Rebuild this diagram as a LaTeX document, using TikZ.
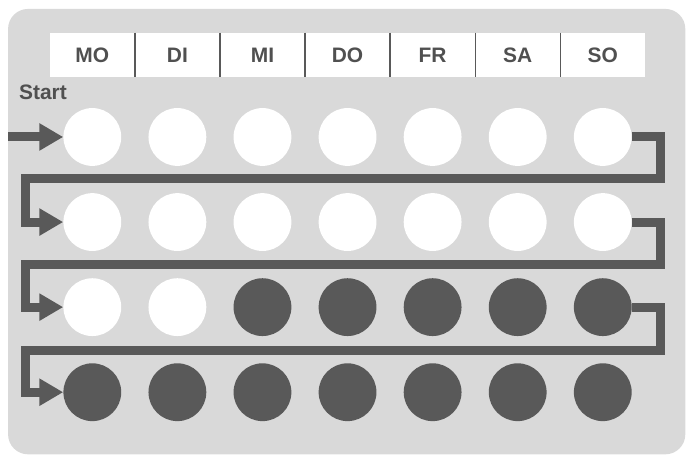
\documentclass[tikz,border=0pt]{standalone}
\usepackage{fontspec}
\setmainfont{Liberation Sans}
\usetikzlibrary{arrows.meta}
\definecolor{panelgray}{RGB}{217,217,217}
\definecolor{dotdark}{RGB}{89,89,89}
\definecolor{textgray}{RGB}{80,80,80}

\begin{document}
\begin{tikzpicture}[
  x=3cm, y=3cm,
  every node/.style={font=\fontsize{21}{25}\selectfont\bfseries, text=textgray},
  daycell/.style={fill=white, minimum width=3cm, minimum height=44pt, inner sep=0pt},
  sepline/.style={draw=dotdark, line width=1.6pt},
  pill/.style={circle, fill=white, minimum size=58pt, inner sep=0pt},
  taken/.style={pill, fill=dotdark},
  link/.style={draw=dotdark, line width=9pt, line join=miter},
  >={Triangle[length=24pt,width=26pt]}
]

\useasboundingbox (-0.085,0.61) rectangle (7.99,-4.75);
\fill[panelgray, rounded corners=20pt] (0.01,0.505) rectangle (7.97,-4.73);

% weekday header
\node[daycell] (mo) at (1,-0.035) {MO};
\node[daycell] (di) at (2,-0.035) {DI};
\node[daycell] (mi) at (3,-0.035) {MI};
\node[daycell] (do) at (4,-0.035) {DO};
\node[daycell] (fr) at (5,-0.035) {FR};
\node[daycell] (sa) at (6,-0.035) {SA};
\node[daycell] (so) at (7,-0.035) {SO};

\draw[sepline] (mo.north east) -- (mo.south east);
\draw[sepline] (di.north east) -- (di.south east);
\draw[sepline] (mi.north east) -- (mi.south east);
\draw[sepline] (do.north east) -- (do.south east);
\draw[sepline] (fr.north east) -- (fr.south east);
\draw[sepline] (sa.north east) -- (sa.south east);

\node (start) at (0.42,-0.48) {Start};

% week 1
\node[pill] (r1-1) at (1,-1) {};
\node[pill] (r1-2) at (2,-1) {};
\node[pill] (r1-3) at (3,-1) {};
\node[pill] (r1-4) at (4,-1) {};
\node[pill] (r1-5) at (5,-1) {};
\node[pill] (r1-6) at (6,-1) {};
\node[pill] (r1-7) at (7,-1) {};

% week 2
\node[pill] (r2-1) at (1,-2) {};
\node[pill] (r2-2) at (2,-2) {};
\node[pill] (r2-3) at (3,-2) {};
\node[pill] (r2-4) at (4,-2) {};
\node[pill] (r2-5) at (5,-2) {};
\node[pill] (r2-6) at (6,-2) {};
\node[pill] (r2-7) at (7,-2) {};

% week 3
\node[pill]  (r3-1) at (1,-3) {};
\node[pill]  (r3-2) at (2,-3) {};
\node[taken] (r3-3) at (3,-3) {};
\node[taken] (r3-4) at (4,-3) {};
\node[taken] (r3-5) at (5,-3) {};
\node[taken] (r3-6) at (6,-3) {};
\node[taken] (r3-7) at (7,-3) {};

% week 4
\node[taken] (r4-1) at (1,-4) {};
\node[taken] (r4-2) at (2,-4) {};
\node[taken] (r4-3) at (3,-4) {};
\node[taken] (r4-4) at (4,-4) {};
\node[taken] (r4-5) at (5,-4) {};
\node[taken] (r4-6) at (6,-4) {};
\node[taken] (r4-7) at (7,-4) {};

\coordinate (entry) at (0.01,-1);

\draw[link,->] (entry) -- (r1-1.west);
\draw[link,->] (r1-7.east) -| (7.68,-1.49) -| (0.21,-2) -- (r2-1.west);
\draw[link,->] (r2-7.east) -| (7.68,-2.5) -| (0.21,-3) -- (r3-1.west);
\draw[link,->] (r3-7.east) -| (7.68,-3.51) -| (0.21,-4) -- (r4-1.west);

\end{tikzpicture}
\end{document}
